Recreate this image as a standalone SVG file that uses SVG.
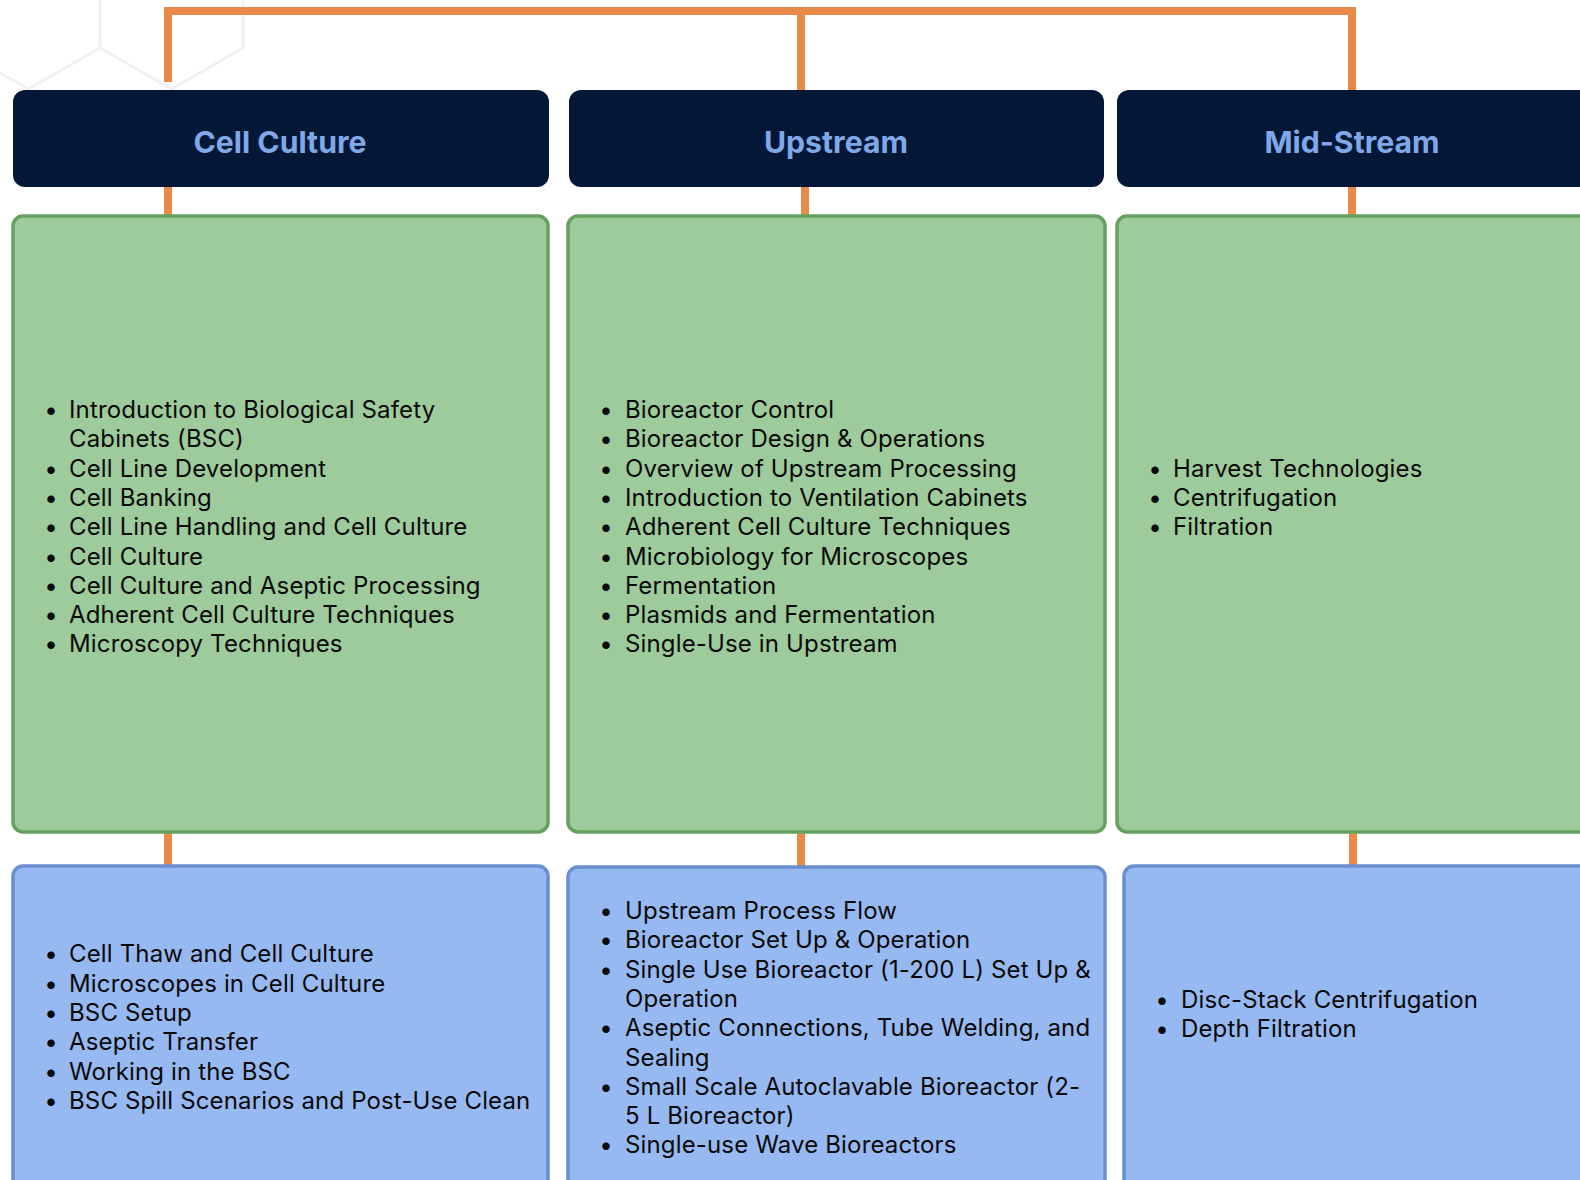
<svg xmlns="http://www.w3.org/2000/svg" width="1580" height="1180" viewBox="0 0 1580 1180">
<style>
.hex{fill:none;stroke:#f1f1f1;stroke-width:3}
.hdr{fill:#031836}
.hdrt{font-family:Inter,"Noto Sans",sans-serif;font-weight:700;font-size:30.2px;fill:#80a8e8;text-anchor:middle}
.grn{fill:#9ecb9c;stroke:#64a15f;stroke-width:3.5}
.blu{fill:#97b9f2;stroke:#6a8ed0;stroke-width:3.5}
.t{font-family:Inter,"Noto Sans",sans-serif;font-size:24px;letter-spacing:0.15px;fill:#0a0a0a}
.b{text-anchor:middle;letter-spacing:0}
.con{fill:none;stroke:#e98a4b;stroke-width:8}
</style>
<rect width="1580" height="1180" fill="#ffffff"/>
<g id="background">
<path class="hex" d="M100,0 V48 L171.5,89 L243,48 V0 M100,48 L28.5,89 L-43,48"/>
</g>
<g id="connectors">
<path class="con" d="M168,82 V11 H1352 V90"/>
<path class="con" d="M801,11 V90"/>
<path class="con" d="M168,186 V216 M805,186 V216 M1352,186 V216"/>
<path class="con" d="M168,832 V866 M801,832 V867 M1353,832 V866"/>
</g>
<g id="cell-culture-header">
<rect class="hdr" x="13" y="90" width="536" height="97" rx="12"/>
<text class="hdrt" x="280" y="153">Cell Culture</text>
</g>
<g id="upstream-header">
<rect class="hdr" x="569" y="90" width="535" height="97" rx="12"/>
<text class="hdrt" x="836" y="153">Upstream</text>
</g>
<g id="midstream-header">
<rect class="hdr" x="1117" y="90" width="480" height="97" rx="12"/>
<text class="hdrt" x="1352" y="153">Mid-Stream</text>
</g>
<g id="cell-culture-topics">
<rect class="grn" x="13" y="216" width="535" height="616" rx="10"/>
<g class="t">
<text class="b" x="51" y="418">•</text><text x="69" y="418">Introduction to Biological Safety</text>
<text x="69" y="447.3">Cabinets (BSC)</text>
<text class="b" x="51" y="476.6">•</text><text x="69" y="476.6">Cell Line Development</text>
<text class="b" x="51" y="505.9">•</text><text x="69" y="505.9">Cell Banking</text>
<text class="b" x="51" y="535.2">•</text><text x="69" y="535.2">Cell Line Handling and Cell Culture</text>
<text class="b" x="51" y="564.5">•</text><text x="69" y="564.5">Cell Culture</text>
<text class="b" x="51" y="593.8">•</text><text x="69" y="593.8">Cell Culture and Aseptic Processing</text>
<text class="b" x="51" y="623.1">•</text><text x="69" y="623.1">Adherent Cell Culture Techniques</text>
<text class="b" x="51" y="652.4">•</text><text x="69" y="652.4">Microscopy Techniques</text>
</g>
</g>
<g id="upstream-topics">
<rect class="grn" x="568" y="216" width="537" height="616" rx="10"/>
<g class="t">
<text class="b" x="606" y="418">•</text><text x="625" y="418">Bioreactor Control</text>
<text class="b" x="606" y="447.3">•</text><text x="625" y="447.3">Bioreactor Design &amp; Operations</text>
<text class="b" x="606" y="476.6">•</text><text x="625" y="476.6">Overview of Upstream Processing</text>
<text class="b" x="606" y="505.9">•</text><text x="625" y="505.9">Introduction to Ventilation Cabinets</text>
<text class="b" x="606" y="535.2">•</text><text x="625" y="535.2">Adherent Cell Culture Techniques</text>
<text class="b" x="606" y="564.5">•</text><text x="625" y="564.5">Microbiology for Microscopes</text>
<text class="b" x="606" y="593.8">•</text><text x="625" y="593.8">Fermentation</text>
<text class="b" x="606" y="623.1">•</text><text x="625" y="623.1">Plasmids and Fermentation</text>
<text class="b" x="606" y="652.4">•</text><text x="625" y="652.4">Single-Use in Upstream</text>
</g>
</g>
<g id="midstream-topics">
<rect class="grn" x="1117" y="216" width="480" height="616" rx="10"/>
<g class="t">
<text class="b" x="1155" y="476.6">•</text><text x="1173" y="476.6">Harvest Technologies</text>
<text class="b" x="1155" y="505.9">•</text><text x="1173" y="505.9">Centrifugation</text>
<text class="b" x="1155" y="535.2">•</text><text x="1173" y="535.2">Filtration</text>
</g>
</g>
<g id="cell-culture-labs">
<rect class="blu" x="13" y="866" width="535" height="330" rx="10"/>
<g class="t">
<text class="b" x="51" y="962.3">•</text><text x="69" y="962.3">Cell Thaw and Cell Culture</text>
<text class="b" x="51" y="991.6">•</text><text x="69" y="991.6">Microscopes in Cell Culture</text>
<text class="b" x="51" y="1020.9">•</text><text x="69" y="1020.9">BSC Setup</text>
<text class="b" x="51" y="1050.2">•</text><text x="69" y="1050.2">Aseptic Transfer</text>
<text class="b" x="51" y="1079.5">•</text><text x="69" y="1079.5">Working in the BSC</text>
<text class="b" x="51" y="1108.8">•</text><text x="69" y="1108.8">BSC Spill Scenarios and Post-Use Clean</text>
</g>
</g>
<g id="upstream-labs">
<rect class="blu" x="568" y="867" width="537" height="330" rx="10"/>
<g class="t">
<text class="b" x="606" y="919">•</text><text x="625" y="919">Upstream Process Flow</text>
<text class="b" x="606" y="948.3">•</text><text x="625" y="948.3">Bioreactor Set Up &amp; Operation</text>
<text class="b" x="606" y="977.6">•</text><text x="625" y="977.6">Single Use Bioreactor (1-200 L) Set Up &amp;</text>
<text x="625" y="1006.9">Operation</text>
<text class="b" x="606" y="1036.2">•</text><text x="625" y="1036.2">Aseptic Connections, Tube Welding, and</text>
<text x="625" y="1065.5">Sealing</text>
<text class="b" x="606" y="1094.8">•</text><text x="625" y="1094.8">Small Scale Autoclavable Bioreactor (2-</text>
<text x="625" y="1124.1">5 L Bioreactor)</text>
<text class="b" x="606" y="1153.4">•</text><text x="625" y="1153.4">Single-use Wave Bioreactors</text>
</g>
</g>
<g id="midstream-labs">
<rect class="blu" x="1124" y="866" width="480" height="330" rx="10"/>
<g class="t">
<text class="b" x="1162" y="1007.5">•</text><text x="1181" y="1007.5">Disc-Stack Centrifugation</text>
<text class="b" x="1162" y="1036.8">•</text><text x="1181" y="1036.8">Depth Filtration</text>
</g>
</g>
</svg>
